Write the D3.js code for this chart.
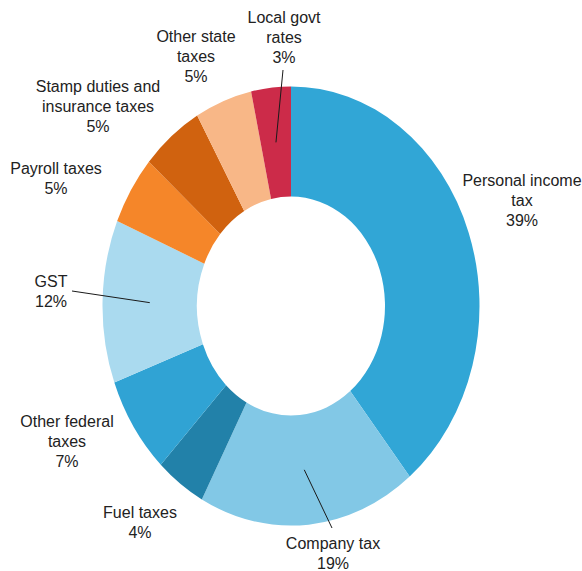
<!DOCTYPE html>
<html>
<head>
<meta charset="utf-8">
<script src="https://cdn.jsdelivr.net/npm/d3@7"></script>
<style>
  body { margin: 0; background: #fff; }
  svg { display: block; }
  .slice-label { font-family: "Liberation Sans", Arial, sans-serif; font-size: 16px; fill: #222; }
</style>
</head>
<body>
<div id="chart"></div>
<script>
// slices, clockwise from 12 o'clock
const categories = [
  'Personal income tax', 'Company tax', 'Fuel taxes', 'Other federal taxes', 'GST',
  'Payroll taxes', 'Stamp duties and insurance taxes', 'Other state taxes', 'Local govt rates'
];
// shares
const shares = [39.2, 18.7, 4.3, 7.2, 12.0, 5.1, 5.3, 4.9, 3.4];
// printed labels
const labelLines = [
  ['Personal income', 'tax', '39%'],
  ['Company tax', '19%'],
  ['Fuel taxes', '4%'],
  ['Other federal', 'taxes', '7%'],
  ['GST', '12%'],
  ['Payroll taxes', '5%'],
  ['Stamp duties and', 'insurance taxes', '5%'],
  ['Other state', 'taxes', '5%'],
  ['Local govt', 'rates', '3%']
];
const colors = [
  '#31a6d6', '#82c8e6', '#2281a9', '#30a3d4', '#aadaef',
  '#f58629', '#d0620f', '#f8b787', '#cc2b49'
];

const width = 582, height = 571;
const cx = 291, cy = 306;
const outerR = 188.5, innerR = 94;
const sy = 1.165; // the picture is stretched vertically

// label anchor (centre x, first baseline) and leader line end, by slice
const labelPos = [
  { x: 522, y: 186 }, { x: 333, y: 549 }, { x: 140, y: 518 },
  { x: 67, y: 427 }, { x: 51, y: 287 }, { x: 56, y: 174 },
  { x: 98, y: 92 }, { x: 196, y: 42 }, { x: 284, y: 23 }
];
const leaders = { 1: [332, 528], 4: [72, 291], 8: [283, 70] };

const svg = d3.select('#chart')
  .append('svg')
  .attr('width', width)
  .attr('height', height);

const pie = d3.pie().sort(null).value(d => d);
const arcs = pie(shares);

const arc = d3.arc()
  .innerRadius(innerR)
  .outerRadius(outerR);

svg.append('g')
  .attr('transform', `translate(${cx},${cy}) scale(1,${sy})`)
  .selectAll('path')
  .data(arcs)
  .join('path')
  .attr('d', arc)
  .attr('fill', (d, i) => colors[i]);

// leader lines from slice centroid to the label
Object.keys(leaders).forEach(k => {
  const c = arc.centroid(arcs[+k]);
  svg.append('line')
    .attr('x1', cx + c[0])
    .attr('y1', cy + c[1] * sy)
    .attr('x2', leaders[k][0])
    .attr('y2', leaders[k][1])
    .attr('stroke', '#1a1a1a')
    .attr('stroke-width', 1);
});

const labels = svg.append('g')
  .selectAll('text')
  .data(labelLines)
  .join('text')
  .attr('class', 'slice-label')
  .attr('text-anchor', 'middle');

labels.each(function (lines, i) {
  const t = d3.select(this);
  lines.forEach((s, j) => {
    t.append('tspan')
      .attr('x', labelPos[i].x)
      .attr('y', labelPos[i].y + j * 20)
      .text(s);
  });
});
</script>
</body>
</html>
